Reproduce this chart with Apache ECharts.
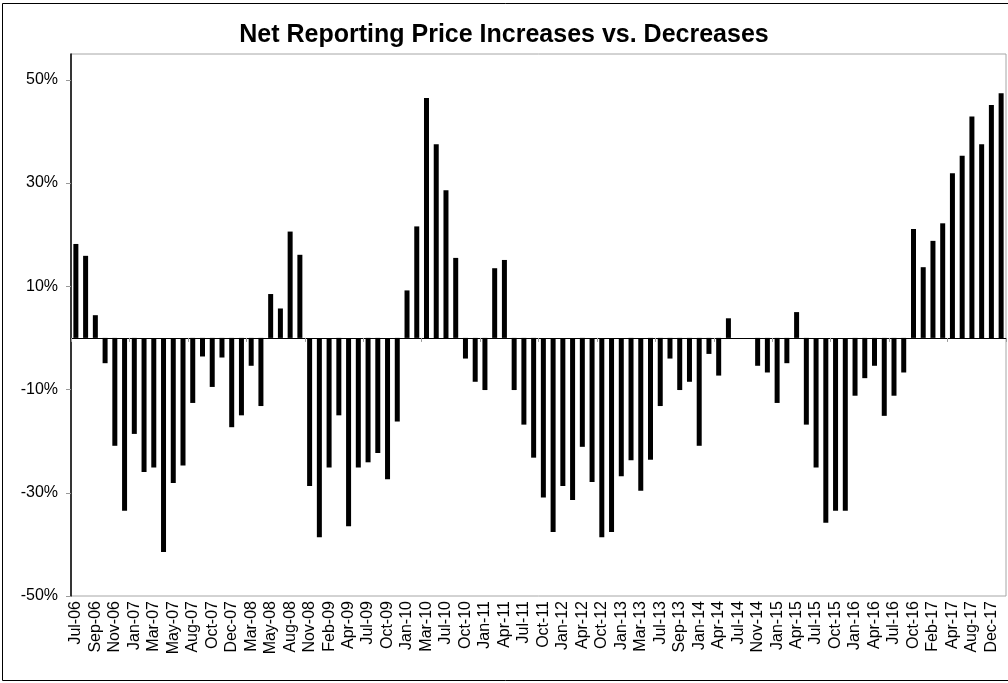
<!DOCTYPE html>
<html>
<head>
<meta charset="utf-8">
<title>Net Reporting Price Increases vs. Decreases</title>
<script src="https://cdn.jsdelivr.net/npm/echarts@6/dist/echarts.min.js"></script>
<style>
  html, body { margin: 0; padding: 0; background: #fff; }
  #myChart { width: 1008px; height: 683px; }
</style>
</head>
<body>
<div id="myChart"></div>
<script>
// survey dates (irregular spacing, only every other one is labelled)
const months = [
  'Jul-06','Aug-06','Sep-06','Oct-06','Nov-06','Dec-06','Jan-07','Feb-07','Mar-07','Apr-07',
  'May-07','Jul-07','Aug-07','Sep-07','Oct-07','Nov-07','Dec-07','Feb-08','Mar-08','Apr-08',
  'May-08','Jul-08','Aug-08','Oct-08','Nov-08','Jan-09','Feb-09','Mar-09','Apr-09','Jun-09',
  'Jul-09','Sep-09','Oct-09','Dec-09','Jan-10','Feb-10','Mar-10','May-10','Jul-10','Sep-10',
  'Oct-10','Dec-10','Jan-11','Mar-11','Apr-11','Jun-11','Jul-11','Sep-11','Oct-11','Dec-11',
  'Jan-12','Mar-12','Apr-12','Jul-12','Oct-12','Dec-12','Jan-13','Feb-13','Mar-13','May-13',
  'Jul-13','Aug-13','Sep-13','Nov-13','Jan-14','Mar-14','Apr-14','Jun-14','Jul-14','Sep-14',
  'Nov-14','Dec-14','Jan-15','Mar-15','Apr-15','Jun-15','Jul-15','Sep-15','Oct-15','Dec-15',
  'Jan-16','Mar-16','Apr-16','Jun-16','Jul-16','Sep-16','Oct-16','Dec-16','Feb-17','Mar-17',
  'Apr-17','Jun-17','Aug-17','Oct-17','Dec-17','Jan-18'
]

// net % reporting price increases minus decreases
const netPct = [
  18.2, 15.9, 4.4, -4.9, -20.9, -33.5, -18.6, -26.0, -25.1, -41.5,
  -28.1, -24.7, -12.6, -3.6, -9.5, -3.8, -17.3, -15.0, -5.4, -13.2,
  8.5, 5.7, 20.6, 16.1, -28.7, -38.6, -25.1, -15.0, -36.5, -25.1,
  -24.1, -22.3, -27.4, -16.2, 9.2, 21.6, 46.5, 37.5, 28.6, 15.5,
  -4.0, -8.5, -10.1, 13.5, 15.1, -10.1, -16.8, -23.2, -30.9, -37.6,
  -28.7, -31.4, -21.1, -27.9, -38.6, -37.6, -26.8, -23.7, -29.6, -23.6,
  -13.2, -4.0, -10.1, -8.5, -20.9, -3.1, -7.3, 3.8, null, null,
  -5.4, -6.7, -12.6, -4.9, 5.0, -16.8, -25.1, -35.8, -33.5, -33.5,
  -11.2, -7.8, -5.4, -15.1, -11.2, -6.7, 21.1, 13.7, 18.8, 22.2,
  31.9, 35.3, 42.9, 37.5, 45.1, 47.4
]

const yTicks = [-50, -30, -10, 10, 30, 50]

const FONT = '"Liberation Sans", Arial, sans-serif'

let myChart = echarts.init(document.getElementById('myChart'))
myChart.setOption({
  animation: false,
  title: {
    text: 'Net Reporting Price Increases vs. Decreases',
    left: 'center',
    top: 18,
    textStyle: { fontFamily: FONT, fontSize: 25, fontWeight: 'bold', color: '#000' }
  },
  // outer chart frame
  graphic: [{
    type: 'rect',
    shape: { x: 2.5, y: 3.5, width: 1010, height: 677 },
    style: { fill: 'none', stroke: '#000', lineWidth: 1 },
    silent: true
  }],
  grid: {
    left: 71,
    top: 54,
    right: 2,
    bottom: 87,
    show: true,
    borderColor: '#a6a6a6',
    borderWidth: 1
  },
  xAxis: [
    {
      // labels along the bottom of the plot
      type: 'category',
      data: months,
      position: 'bottom',
      axisLine: { show: false, onZero: false },
      axisTick: { show: false },
      axisLabel: {
        interval: 1,
        rotate: 90,
        margin: 5,
        fontFamily: FONT,
        fontSize: 16,
        color: '#000'
      }
    },
    {
      // zero line with the small category ticks
      type: 'category',
      data: months,
      axisLine: { show: true, onZero: true, lineStyle: { color: '#000', width: 1 } },
      axisTick: { show: true, inside: true, length: 4, lineStyle: { color: '#999' } },
      axisLabel: { show: false }
    }
  ],
  yAxis: {
    type: 'value',
    min: -50,
    max: 55,
    axisLine: { show: true, lineStyle: { color: '#000', width: 1.5 } },
    axisTick: { show: true, length: 5, customValues: yTicks, lineStyle: { color: '#999' } },
    splitLine: { show: false },
    axisLabel: {
      customValues: yTicks,
      formatter: v => v + '%',
      margin: 13,
      fontFamily: FONT,
      fontSize: 16,
      color: '#000'
    }
  },
  series: [{
    type: 'bar',
    xAxisIndex: 0,
    data: netPct,
    barWidth: 5,
    itemStyle: { color: '#000' }
  }]
})
</script>
</body>
</html>
